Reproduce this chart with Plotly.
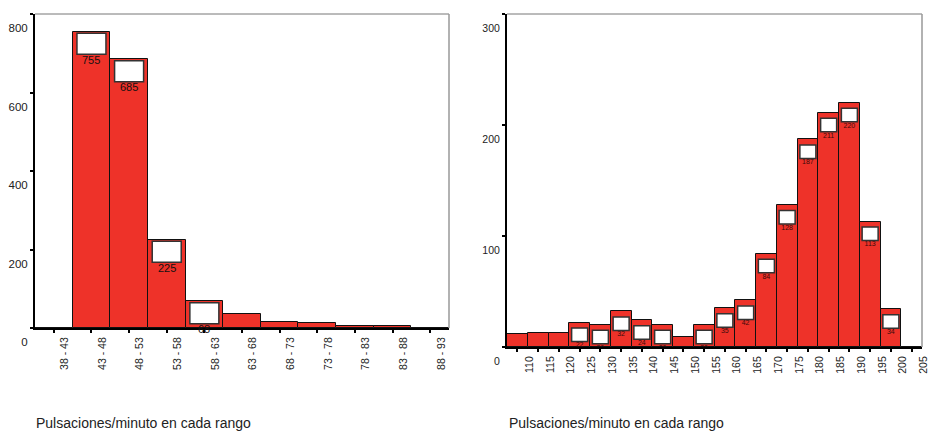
import plotly.graph_objects as go

# ---------------- data ----------------
left_labels = ["38 - 43", "43 - 48", "48 - 53", "53 - 58", "58 - 63", "63 - 68",
               "68 - 73", "73 - 78", "78 - 83", "83 - 88", "88 - 93"]
left_values = [1, 755, 685, 225, 68, 36, 15, 13, 4, 4, 0]

right_labels = ["110", "115", "120", "125", "130", "135", "140", "145", "150", "155",
                "160", "165", "170", "175", "180", "185", "190", "195", "200", "205"]
right_values = [12, 13, 13, 22, 20, 32, 24, 20, 9, 20, 35, 42, 84, 128, 187, 211, 220, 113, 34, 0]

left_yticks = [0, 200, 400, 600, 800]
right_yticks = [0, 100, 200, 300]
axis_title = "Pulsaciones/minuto en cada rango"

# ---------------- layout geometry ----------------
W, H = 930, 432
L_X0, L_X1, L_Y0, L_Y1 = 35, 449, 14, 328
R_X0, R_X1, R_Y0, R_Y1 = 507, 922, 14, 347
L_RANGE = [0, 800]
R_RANGE = [0, 300]
RED = "#EE3229"

pxu_right = (R_Y1 - R_Y0) / (R_RANGE[1] - R_RANGE[0])

fig = go.Figure()

lx = list(range(len(left_values)))
rx = list(range(len(right_values)))

fig.add_trace(go.Bar(x=lx, y=left_values, marker=dict(color=RED, line=dict(color="#111", width=1)),
                     xaxis="x", yaxis="y", width=1, hoverinfo="skip"))
fig.add_trace(go.Bar(x=rx, y=right_values, marker=dict(color=RED, line=dict(color="#111", width=1)),
                     xaxis="x2", yaxis="y2", width=1, hoverinfo="skip"))

shapes = []
annotations = []
font = "Liberation Sans, Arial, sans-serif"

# label boxes and text (left)
for i, v in zip(lx, left_values):
    if v >= 50:
        shapes.append(dict(type="rect", xref="x", yref="y", xsizemode="pixel", ysizemode="pixel",
                           xanchor=i, yanchor=v, x0=-14.5, x1=14.5, y0=-1.5, y1=-22.5,
                           fillcolor="white", line=dict(color="#333", width=1.5), layer="above"))
        annotations.append(dict(text=str(v), xref="x", yref="y", x=i, y=v, yshift=-28,
                                xanchor="center", yanchor="middle", showarrow=False,
                                font=dict(size=11, color="#111", family=font)))

# label boxes and text (right)
r_tx, r_ty, r_tt = [], [], []
for i, v in zip(rx, right_values):
    if v >= 20:
        shapes.append(dict(type="rect", xref="x2", yref="y2", xsizemode="pixel", ysizemode="pixel",
                           xanchor=i, yanchor=v, x0=-8, x1=8, y0=-5.5, y1=-19,
                           fillcolor="white", line=dict(color="#333", width=1.5), layer="above"))
        r_tx.append(i)
        r_ty.append(v - 23 / pxu_right)
        r_tt.append(str(v))

fig.add_trace(go.Scatter(x=r_tx, y=r_ty, text=r_tt, mode="text", xaxis="x2", yaxis="y2",
                         textfont=dict(family=font, size=7, color="#3a0a0a"),
                         cliponaxis=True, hoverinfo="skip"))

# thin gray top/right frame lines
for xr, yr in (("x domain", "y domain"), ("x2 domain", "y2 domain")):
    shapes.append(dict(type="line", xref=xr, yref=yr, x0=0, x1=1, y0=1, y1=1,
                       line=dict(color="#777", width=1)))
    shapes.append(dict(type="line", xref=xr, yref=yr, x0=1, x1=1, y0=0, y1=1,
                       line=dict(color="#999", width=1.5)))

common_x = dict(showgrid=False, zeroline=False, showline=True, linecolor="black", linewidth=2,
                ticks="outside", ticklen=3, tickwidth=2, tickcolor="black", tickangle=-90,
                fixedrange=True, automargin=False, ticklabeloverflow="allow")
common_y = dict(showgrid=False, zeroline=False, showline=True, linecolor="black", linewidth=2,
                ticks="outside", ticklen=3, tickwidth=2, tickcolor="black", ticklabelshift=14,
                fixedrange=True, automargin=False, ticklabeloverflow="allow")

annotations += [
    dict(text=axis_title, xref="paper", yref="paper", x=34 / W, y=1 - 423 / H,
         xanchor="left", yanchor="middle", showarrow=False,
         font=dict(size=14, color="#222", family=font)),
    dict(text=axis_title, xref="paper", yref="paper", x=507 / W, y=1 - 423 / H,
         xanchor="left", yanchor="middle", showarrow=False,
         font=dict(size=14, color="#222", family=font)),
]

fig.update_layout(
    width=W, height=H, autosize=False,
    margin=dict(l=0, r=0, t=0, b=0, autoexpand=False),
    paper_bgcolor="white", plot_bgcolor="white",
    showlegend=False, bargap=0,
    font=dict(family=font, color="#222"),
    shapes=shapes,
    annotations=annotations,
    xaxis=dict(domain=[L_X0 / W, L_X1 / W], range=[-0.5, len(left_values) - 0.5],
               tickvals=lx, ticktext=left_labels, ticklabelshift=11,
               tickfont=dict(size=10.5, color="#222"), anchor="y", **common_x),
    yaxis=dict(domain=[1 - L_Y1 / H, 1 - L_Y0 / H], range=L_RANGE, tickvals=left_yticks,
               tickfont=dict(size=11.5, color="#222"), anchor="x", **common_y),
    xaxis2=dict(domain=[R_X0 / W, R_X1 / W], range=[-0.5, len(right_values) - 0.5],
                tickvals=rx, ticktext=right_labels, ticklabelshift=12,
                tickfont=dict(size=10.5, color="#222"), anchor="y2", **common_x),
    yaxis2=dict(domain=[1 - R_Y1 / H, 1 - R_Y0 / H], range=R_RANGE, tickvals=right_yticks,
                tickfont=dict(size=10.5, color="#222"), anchor="x2", **common_y),
)

fig.write_html("out.html", config={"displayModeBar": False},
               post_script="document.body.style.margin='0px';")
